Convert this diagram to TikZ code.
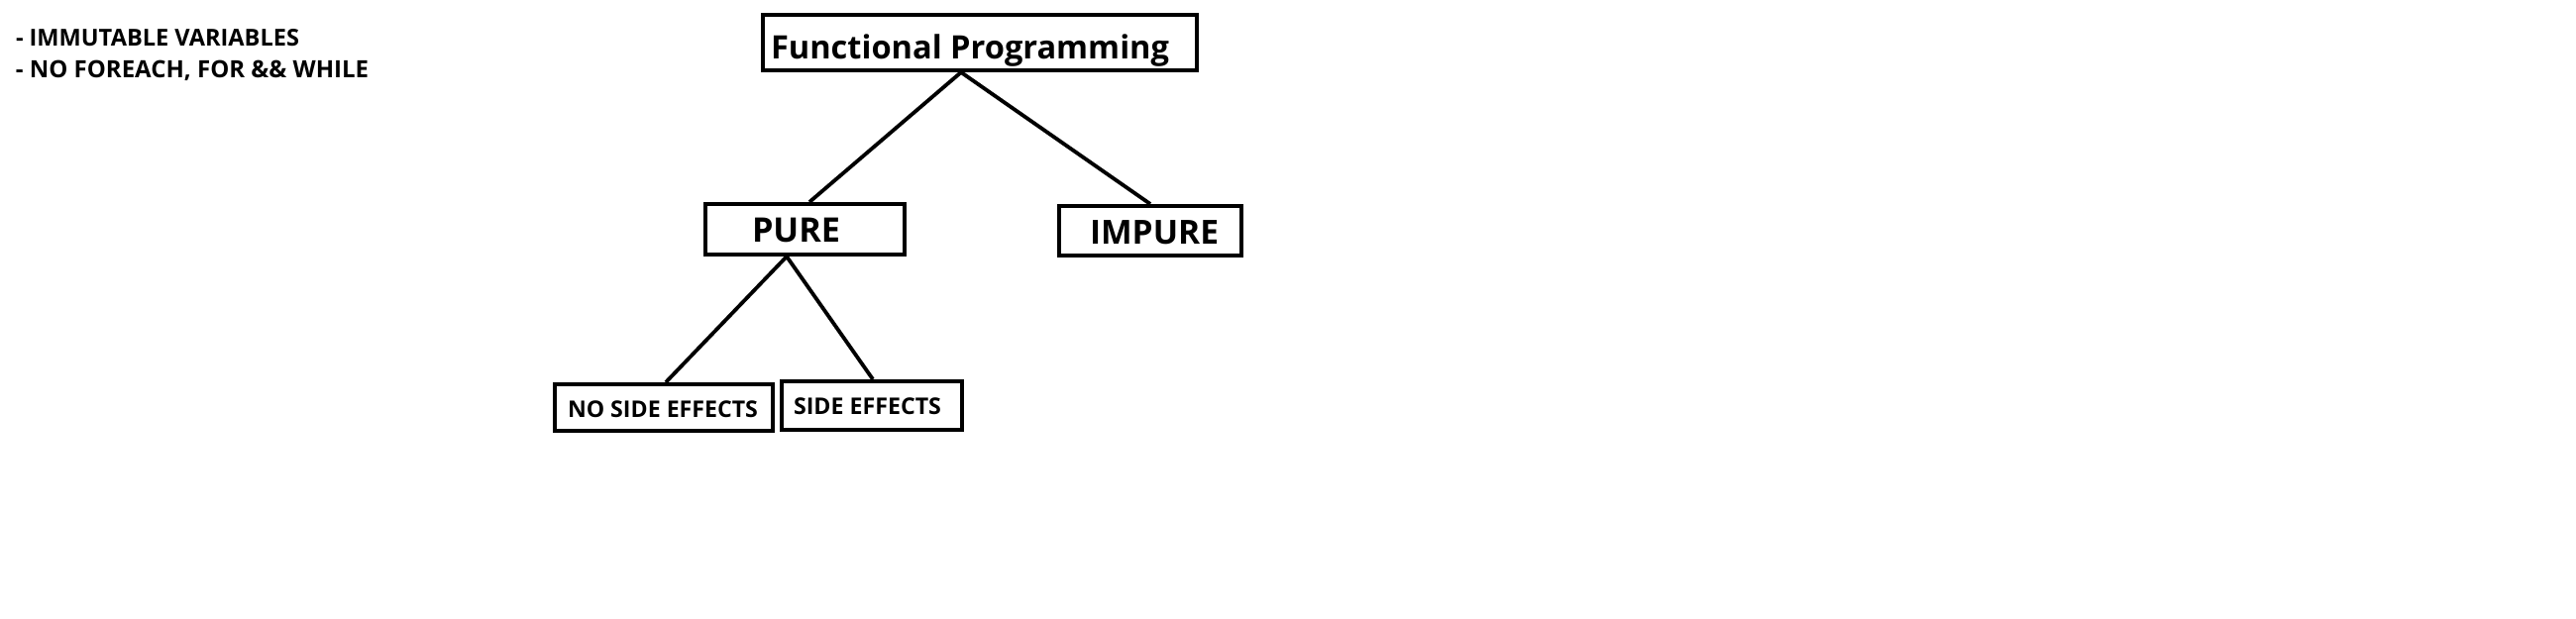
\documentclass[tikz,border=0pt]{standalone}
\usepackage{fontspec}
\setmainfont{Open Sans}
\usepackage{graphicx}
\begin{document}
\begin{tikzpicture}[x=0.5pt,y=-0.5pt,
  box/.style={draw=black, line width=2pt, rectangle, inner sep=0pt, fill=white},
  conn/.style={draw=black, line width=1.9pt},
  lbl/.style={anchor=base west, inner sep=0pt, outer sep=0pt}]
\fill[white] (0,0) rectangle (2600,625);
\useasboundingbox (0,0) rectangle (2600,625);
% notes
\node[lbl] (n1) at (16,47) {\resizebox{143pt}{!}{\bfseries - IMMUTABLE VARIABLES}};
\node[lbl] (n2) at (16,79) {\resizebox{178pt}{!}{\bfseries - NO FOREACH, FOR \&\& WHILE}};
% boxes
\node[box, minimum width=219pt, minimum height=28pt] (fp) at (989,43) {};
\node[box, minimum width=100.5pt, minimum height=25.5pt] (pure) at (812.5,231.5) {};
\node[box, minimum width=92pt, minimum height=25pt] (impure) at (1161,233) {};
\node[box, minimum width=110pt, minimum height=23.5pt] (nse) at (670,411.5) {};
\node[box, minimum width=91pt, minimum height=24.5pt] (se) at (880,409.5) {};
% texts
\node[lbl] (fpt) at (778,60) {\resizebox{201pt}{!}{\bfseries Functional Programming}};
\node[lbl] (puret) at (759,245) {\resizebox{44.5pt}{!}{\bfseries PURE}};
\node[lbl] (impuret) at (1100,247) {\resizebox{65pt}{!}{\bfseries IMPURE}};
\node[lbl] (nset) at (573,422) {\resizebox{96pt}{!}{\bfseries NO SIDE EFFECTS}};
\node[lbl] (set) at (801,418) {\resizebox{74.5pt}{!}{\bfseries SIDE EFFECTS}};
% connectors
\draw[conn] ([xshift=-9.5pt]fp.south) -- ([xshift=2.25pt]pure.north);
\draw[conn] ([xshift=-9.5pt]fp.south) -- (impure.north);
\draw[conn] ([xshift=-9.25pt]pure.south) -- ([xshift=1pt]nse.north);
\draw[conn] ([xshift=-9.25pt]pure.south) -- ([xshift=0.5pt]se.north);
\end{tikzpicture}
\end{document}
